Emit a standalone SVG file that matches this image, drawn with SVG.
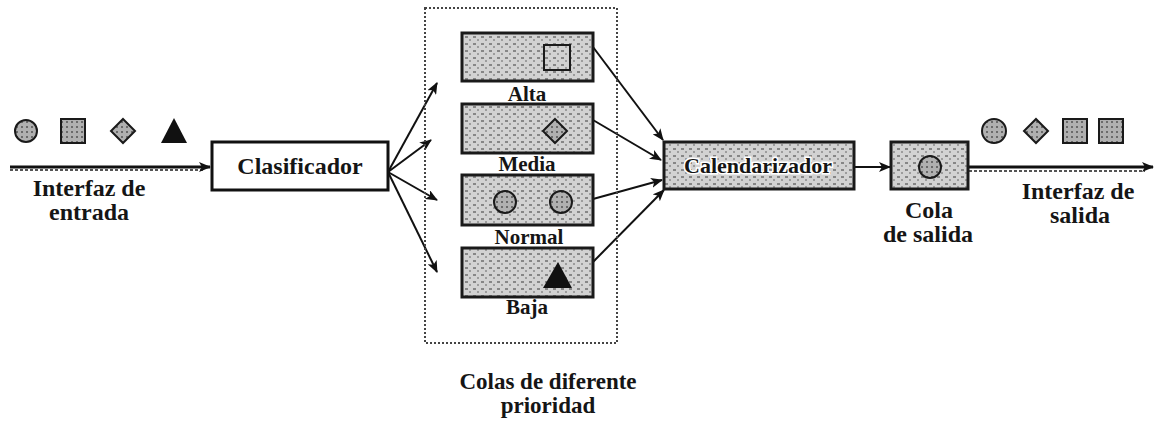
<svg xmlns="http://www.w3.org/2000/svg" width="1155" height="421" viewBox="0 0 1155 421">
<style>
  text { font-family: "Liberation Serif", "Times New Roman", serif; font-weight: bold; fill: #151515; text-anchor: middle; }
  .big { font-size: 24px; }
  .cap { font-size: 23px; }
  .q { font-size: 21px; }
  .box { fill: url(#tex); stroke: #1a1a1a; stroke-width: 3; }
  .sym { fill: url(#tex2); stroke: #1a1a1a; stroke-width: 2; }
  .conn { stroke: #111; stroke-width: 2; fill: none; marker-end: url(#ah); }
</style>
<defs>
  <pattern id="tex" width="8" height="7" patternUnits="userSpaceOnUse">
    <rect width="8" height="7" fill="#d2d2d2"/>
    <rect x="1" y="1" width="3" height="2" fill="#868686"/>
    <rect x="5" y="4" width="2" height="2" fill="#9c9c9c"/>
  </pattern>
  <pattern id="tex2" width="5" height="5" patternUnits="userSpaceOnUse">
    <rect width="5" height="5" fill="#b0b0b0"/>
    <rect x="1" y="1" width="2" height="2" fill="#6a6a6a"/>
  </pattern>
  <marker id="ah" viewBox="0 0 12 10" refX="11" refY="5" markerWidth="12" markerHeight="10" markerUnits="userSpaceOnUse" orient="auto">
    <path d="M0,0 L12,5 L0,10 L3,5 Z" fill="#111"/>
  </marker>
</defs>

<g id="connectors">
  <!-- input interface line -->
  <line x1="10" y1="170" x2="205" y2="170" stroke="#555" stroke-width="2" stroke-dasharray="3,2"/>
  <line x1="10" y1="167" x2="210" y2="167" stroke="#111" stroke-width="3" marker-end="url(#ah)"/>
  <!-- classifier to queues -->
  <line class="conn" x1="388" y1="172" x2="437" y2="83"/>
  <line class="conn" x1="388" y1="172" x2="431" y2="140"/>
  <line class="conn" x1="388" y1="172" x2="437" y2="200"/>
  <line class="conn" x1="388" y1="172" x2="437" y2="272"/>
  <!-- queues to scheduler -->
  <line class="conn" x1="593" y1="47" x2="663" y2="140"/>
  <line class="conn" x1="593" y1="120" x2="661" y2="160"/>
  <line class="conn" x1="593" y1="199" x2="662" y2="180"/>
  <line class="conn" x1="593" y1="262" x2="664" y2="190"/>
  <!-- scheduler to output queue -->
  <line class="conn" x1="854" y1="167" x2="890" y2="167"/>
  <!-- output interface line -->
  <line x1="969" y1="171" x2="1145" y2="171" stroke="#555" stroke-width="2" stroke-dasharray="3,2"/>
  <line x1="969" y1="167" x2="1153" y2="167" stroke="#111" stroke-width="3" marker-end="url(#ah)"/>
</g>

<g id="input-packets">
  <circle class="sym" cx="26" cy="131" r="11"/>
  <rect class="sym" x="61" y="119" width="24" height="24"/>
  <path class="sym" d="M123,119 L135,131 L123,143 L111,131 Z"/>
  <path d="M174,118 L187,143 L161,143 Z" fill="#111"/>
</g>

<g id="input-label">
  <text class="big" x="89" y="196">Interfaz de</text>
  <text class="big" x="89" y="220">entrada</text>
</g>

<g id="clasificador">
  <rect x="212" y="142" width="176" height="48" fill="#fff" stroke="#111" stroke-width="3"/>
  <text class="big" x="300" y="174">Clasificador</text>
</g>

<g id="colas">
  <rect x="425" y="8" width="192" height="335" fill="none" stroke="#444" stroke-width="2" stroke-dasharray="2,2"/>
  <text class="cap" x="548" y="389">Colas de diferente</text>
  <text class="cap" x="548" y="413">prioridad</text>
</g>

<g id="cola-alta">
  <rect class="box" x="462" y="33" width="131" height="48"/>
  <rect x="544" y="45" width="26" height="25" fill="none" stroke="#1a1a1a" stroke-width="2"/>
  <text class="q" x="527" y="101">Alta</text>
</g>

<g id="cola-media">
  <rect class="box" x="462" y="104" width="131" height="49"/>
  <path class="sym" d="M555,119 L567,131 L555,143 L543,131 Z"/>
  <text class="q" x="527" y="171">Media</text>
</g>

<g id="cola-normal">
  <rect class="box" x="462" y="175" width="131" height="50"/>
  <circle class="sym" cx="505" cy="202" r="11"/>
  <circle class="sym" cx="561" cy="202" r="11"/>
  <text class="q" x="529" y="244">Normal</text>
</g>

<g id="cola-baja">
  <rect class="box" x="462" y="248" width="131" height="49"/>
  <path d="M558,262 L572,288 L543,288 Z" fill="#111"/>
  <text class="q" x="527" y="314">Baja</text>
</g>

<g id="calendarizador">
  <rect class="box" x="664" y="142" width="190" height="47"/>
  <text x="758" y="173" font-size="22" stroke="#fff" stroke-width="3" paint-order="stroke">Calendarizador</text>
</g>

<g id="cola-salida">
  <rect class="box" x="891" y="142" width="77" height="47"/>
  <circle class="sym" cx="930" cy="167" r="11"/>
  <text class="big" x="929" y="218">Cola</text>
  <text class="big" x="928" y="242">de salida</text>
</g>

<g id="output-packets">
  <circle class="sym" cx="994" cy="131" r="12"/>
  <path class="sym" d="M1036,119 L1048,131 L1036,143 L1024,131 Z"/>
  <rect class="sym" x="1063" y="119" width="24" height="24"/>
  <rect class="sym" x="1099" y="119" width="24" height="24"/>
</g>

<g id="output-label">
  <text class="big" x="1078" y="199">Interfaz de</text>
  <text class="big" x="1080" y="223">salida</text>
</g>
</svg>
